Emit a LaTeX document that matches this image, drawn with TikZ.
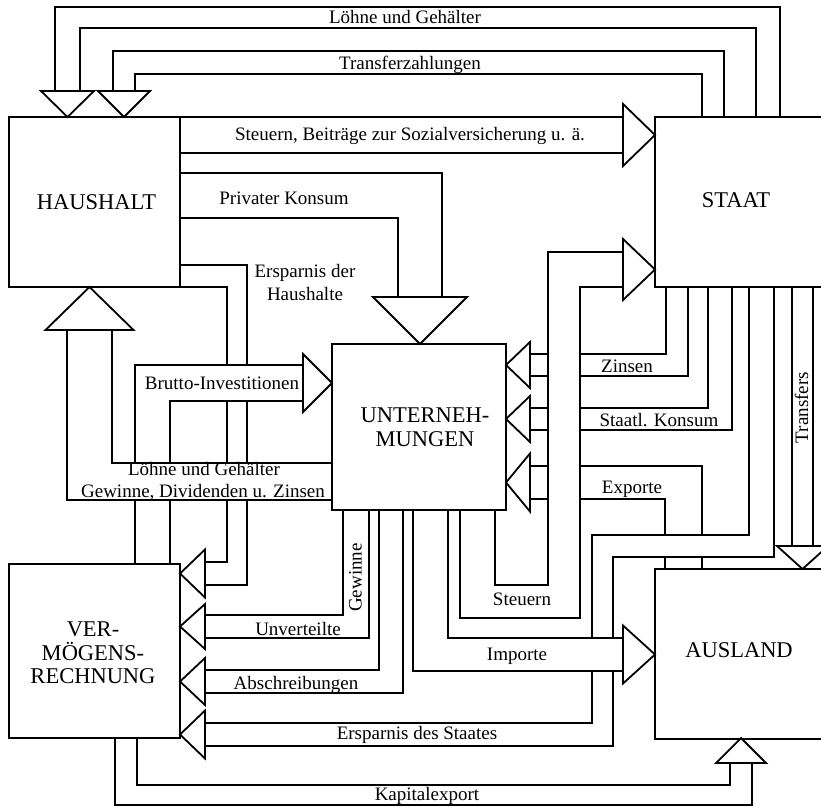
\documentclass[tikz,border=0pt]{standalone}
\usepackage{fontspec}
\setmainfont{Liberation Serif}
% a flow band: side A from source to arrow, side B back from arrow to source;
% the band is blanked first so that it runs over bands drawn before it
\newcommand\flowband[2]{%
  \fill[white] #1 -- #2 -- cycle;
  \draw[flow] #1;
  \draw[flow] #2;}
\begin{document}
\begin{tikzpicture}[x=1pt,y=-1pt,
  flow/.style={line width=1.8pt},
  tip/.style={line width=1.8pt,fill=white},
  box/.style={draw,rectangle,line width=1.8pt,inner sep=0pt},
  boxtext/.style={font=\fontsize{22.5}{23.5}\selectfont,align=center,inner sep=0pt},
  lbl/.style={font=\fontsize{19}{22}\selectfont,inner sep=0pt,anchor=base},
  vlbl/.style={font=\fontsize{19}{22}\selectfont,inner sep=0pt,rotate=90}]
\useasboundingbox (0,0) rectangle (821,806);
\clip (0,0) rectangle (821,806);

% ---- bands, lower ones first ----
% Loehne und Gehaelter (Staat -> Haushalt)
\flowband{(780,117) -- (780,7) -- (55,7) -- (55,91)}{(80,91) -- (80,28) -- (756,28) -- (756,117)}
% Transferzahlungen
\flowband{(724,117) -- (724,51) -- (113,51) -- (113,91)}{(135,91) -- (135,74) -- (702,74) -- (702,117)}
% Steuern, Beitraege (Haushalt -> Staat)
\flowband{(180,117) -- (623,117)}{(623,153) -- (180,153)}
% Privater Konsum
\flowband{(180,173) -- (442,173) -- (442,297)}{(398,297) -- (398,218) -- (180,218)}
% Ersparnis der Haushalte
\flowband{(180,265) -- (247,265) -- (247,585) -- (205,585)}{(205,562) -- (227,562) -- (227,287) -- (180,287)}
% Brutto-Investitionen
\flowband{(135,564) -- (135,365) -- (303,365)}{(303,401) -- (170,401) -- (170,564)}
% Loehne, Gewinne (Unternehmungen -> Haushalt)
\flowband{(332,463) -- (112,463) -- (112,330)}{(67,330) -- (67,500) -- (332,500)}
% Zinsen
\flowband{(666,287) -- (666,354) -- (530,354)}{(530,376) -- (688,376) -- (688,287)}
% Staatl. Konsum
\flowband{(708,287) -- (708,408) -- (530,408)}{(530,430) -- (732,430) -- (732,287)}
% Exporte
\flowband{(702,569) -- (702,466) -- (530,466)}{(530,499) -- (665,499) -- (665,569)}
% Steuern (Unternehmungen -> Staat)
\flowband{(460,510) -- (460,618) -- (580,618) -- (580,287) -- (623,287)}{(623,252) -- (548,252) -- (548,585) -- (495,585) -- (495,510)}
% Ersparnis des Staates
\flowband{(749,287) -- (749,535) -- (592,535) -- (592,723) -- (205,723)}{(205,746) -- (613,746) -- (613,557) -- (774,557) -- (774,287)}
% Importe
\flowband{(448,510) -- (448,638) -- (623,638)}{(623,671) -- (413,671) -- (413,510)}
% Transfers
\flowband{(792,287) -- (792,546)}{(813,546) -- (813,287)}
% Unverteilte Gewinne
\flowband{(343,510) -- (343,615) -- (205,615)}{(205,638) -- (369,638) -- (369,510)}
% Abschreibungen
\flowband{(379,510) -- (379,670) -- (205,670)}{(205,693) -- (403,693) -- (403,510)}
% Kapitalexport
\flowband{(137,738) -- (137,785) -- (730,785) -- (730,763)}{(752,763) -- (752,805) -- (115,805) -- (115,738)}

% ---- arrow heads ----
\draw[tip] (41,91) -- (94,91) -- (67.5,117) -- cycle;
\draw[tip] (98,91) -- (150,91) -- (124,117) -- cycle;
\draw[tip] (623,104) -- (623,166) -- (655,135) -- cycle;
\draw[tip] (373,297) -- (467,297) -- (420,344) -- cycle;
\draw[tip] (205,549.5) -- (205,597.5) -- (180,573.5) -- cycle;
\draw[tip] (303,354) -- (303,412) -- (332,383) -- cycle;
\draw[tip] (45.5,330) -- (133.5,330) -- (89.5,287) -- cycle;
\draw[tip] (530,342) -- (530,388) -- (506,365) -- cycle;
\draw[tip] (530,396) -- (530,442) -- (506,419) -- cycle;
\draw[tip] (530,453.5) -- (530,511.5) -- (506,482.5) -- cycle;
\draw[tip] (623,239) -- (623,300) -- (655,269.5) -- cycle;
\draw[tip] (205,710.5) -- (205,758.5) -- (180,734.5) -- cycle;
\draw[tip] (623,625.5) -- (623,683.5) -- (655,654.5) -- cycle;
\draw[tip] (777,546) -- (828,546) -- (802.5,569) -- cycle;
\draw[tip] (205,604) -- (205,649) -- (180,626.5) -- cycle;
\draw[tip] (205,658) -- (205,705) -- (180,681.5) -- cycle;
\draw[tip] (716,763) -- (766,763) -- (741,738) -- cycle;

% ---- sectors ----
\node[box,minimum width=171pt,minimum height=170pt] (hh) at (94.5,202) {};
\node[box,minimum width=180pt,minimum height=170pt] (st) at (745,202) {};
\node[box,minimum width=174pt,minimum height=166pt] (un) at (419,427) {};
\node[box,minimum width=171pt,minimum height=174pt] (vr) at (94.5,651) {};
\node[box,minimum width=180pt,minimum height=170pt] (au) at (745,654) {};
\node[boxtext] (hhtext) at (96.5,202) {HAUSHALT};
\node[boxtext] (sttext) at (736,200) {STAAT};
\node[boxtext] (untext) at (425,427) {UNTERNEH-\\MUNGEN};
\node[boxtext] (vrtext) at (93,653) {VER-\\MÖGENS-\\RECHNUNG};
\node[boxtext] (autext) at (739,650) {AUSLAND};

% ---- flow labels ----
\node[lbl] (l1) at (405,23.5) {Löhne und Gehälter};
\node[lbl] (l2) at (410,69.5) {Transferzahlungen};
\node[lbl] (l3) at (410,140) {Steuern, Beiträge zur Sozialversicherung u. ä.};
\node[lbl] (l4) at (284,204) {Privater Konsum};
\node[lbl] (l5a) at (305,277.5) {Ersparnis der};
\node[lbl] (l5b) at (305,300) {Haushalte};
\node[lbl] (l6) at (222,389) {Brutto-Investitionen};
\node[lbl] (l7a) at (204,475.5) {Löhne und Gehälter};
\node[lbl] (l7b) at (203,497) {Gewinne, Dividenden u. Zinsen};
\node[lbl] (l8) at (627,372.5) {Zinsen};
\node[lbl] (l9) at (659,426) {Staatl. Konsum};
\node[lbl] (l10) at (632,493) {Exporte};
\node[vlbl] (l11) at (801.5,407.5) {Transfers};
\node[vlbl] (l12) at (355.5,577.5) {Gewinne};
\node[lbl] (l13) at (298,635.5) {Unverteilte};
\node[lbl] (l14) at (522,605) {Steuern};
\node[lbl] (l15) at (517,660) {Importe};
\node[lbl] (l16) at (296,689.5) {Abschreibungen};
\node[lbl] (l17) at (417,739) {Ersparnis des Staates};
\node[lbl] (l18) at (427,800) {Kapitalexport};
\end{tikzpicture}
\end{document}
